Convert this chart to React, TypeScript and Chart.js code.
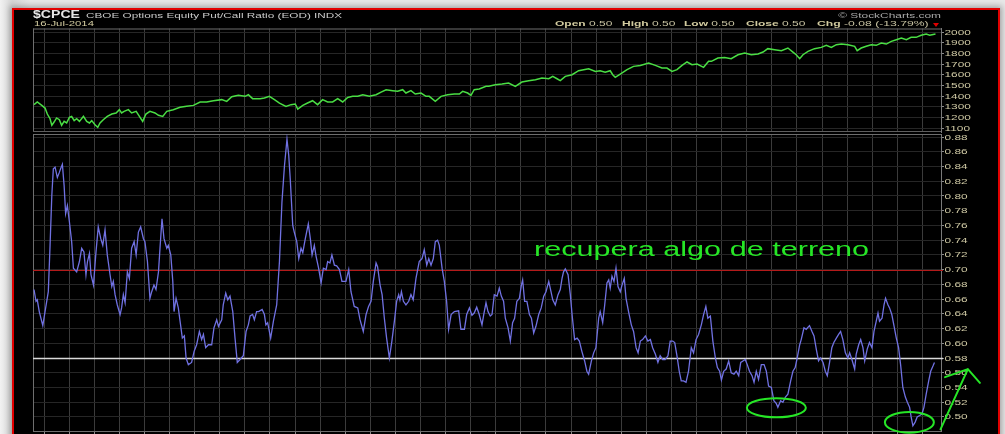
import React, { useEffect, useRef } from 'react';
import { Chart, registerables } from 'chart.js';

Chart.register(...registerables);

// Month grid (Aug 2011 .. Jul 2014), x unit = months since 1-Aug-2011
const monthLabels = [
  'Aug', 'Sep', 'Oct', 'Nov', 'Dec',
  '2012', 'Feb', 'Mar', 'Apr', 'May', 'Jun', 'Jul', 'Aug', 'Sep', 'Oct', 'Nov', 'Dec',
  '2013', 'Feb', 'Mar', 'Apr', 'May', 'Jun', 'Jul', 'Aug', 'Sep', 'Oct', 'Nov', 'Dec',
  '2014', 'Feb', 'Mar', 'Apr', 'May', 'Jun', 'Jul',
];

// S&P 500 (top panel)
const spxMonth = [
  -0.40, -0.27, -0.09, 0.04, 0.13, 0.24, 0.31, 0.40, 0.50, 0.61, 0.70, 0.80, 0.90, 1.01, 1.10, 1.20, 1.30, 1.41, 1.57, 1.70,
  1.81, 1.90, 2.03, 2.14, 2.23, 2.36, 2.52, 2.70, 2.87, 3.00, 3.09, 3.19, 3.36, 3.49, 3.67, 3.80, 3.93, 4.06, 4.22, 4.42,
  4.56, 4.73, 4.89, 5.15, 5.42, 5.68, 5.95, 6.22, 6.48, 6.75, 7.08, 7.28, 7.48, 7.74, 8.01, 8.14, 8.31, 8.47,
  8.61, 8.78, 8.98, 9.18, 9.38, 9.64, 9.84, 10.01, 10.11, 10.31, 10.50, 10.70, 10.90, 11.10, 11.30, 11.50, 11.70, 11.90,
  12.10, 12.30, 12.50, 12.70, 12.96, 13.23, 13.43, 13.63, 13.89, 14.09, 14.29, 14.42, 14.62, 14.79, 15.02, 15.22, 15.35,
  15.59, 15.82, 16.08, 16.35, 16.55, 16.68, 16.88, 17.01, 17.14, 17.34, 17.61,
  17.72, 17.98, 18.25, 18.51, 18.78, 19.04, 19.31, 19.58, 19.84, 20.11, 20.27, 20.44, 20.57, 20.77, 21.04, 21.30, 21.50,
  21.70, 21.97, 22.16, 22.36, 22.56, 22.66, 22.76, 22.96, 23.23, 23.49, 23.76, 24.09, 24.36, 24.62, 24.82, 25.02, 25.22,
  25.42, 25.62, 25.82, 26.02, 26.28, 26.48,
  26.59, 26.85, 27.12, 27.38, 27.65, 27.92, 28.18, 28.45, 28.65, 28.84, 29.11, 29.38, 29.64, 29.84, 29.97, 30.11, 30.24,
  30.44, 30.70, 30.97, 31.17, 31.37, 31.57, 31.77, 32.03, 32.30, 32.40, 32.56, 32.76, 32.96, 33.16, 33.36, 33.56, 33.76,
  33.96, 34.16, 34.36, 34.55, 34.75, 34.95, 35.15, 35.29, 35.52,
];
const spxClose = [
  1319, 1344, 1312, 1287, 1231, 1187, 1125, 1156, 1194, 1178, 1125, 1162, 1147, 1200, 1209, 1169, 1187, 1162, 1209, 1162,
  1147, 1169, 1131, 1106, 1147, 1178, 1209, 1231, 1241, 1272, 1241, 1256, 1272, 1241, 1256, 1209, 1162, 1231, 1256, 1241,
  1219, 1209, 1256, 1272, 1294, 1303, 1312, 1344, 1344, 1356, 1366, 1350, 1394, 1406, 1397, 1412, 1375, 1375,
  1375, 1381, 1397, 1366, 1334, 1303, 1319, 1325, 1278, 1312, 1334, 1356, 1319, 1366, 1344, 1344, 1375, 1344,
  1387, 1397, 1397, 1412, 1397, 1412, 1437, 1459, 1450, 1444, 1459, 1428, 1450, 1419, 1428, 1397, 1397,
  1350, 1397, 1412, 1419, 1419, 1444, 1428, 1406, 1459, 1466, 1491,
  1491, 1506, 1512, 1522, 1491, 1531, 1544, 1553, 1569, 1562, 1584, 1562, 1544, 1584, 1600, 1637, 1647,
  1656, 1631, 1637, 1622, 1637, 1600, 1575, 1606, 1647, 1678, 1687, 1709, 1687, 1662, 1662, 1631, 1647,
  1687, 1719, 1694, 1700, 1669, 1725,
  1725, 1756, 1762, 1750, 1787, 1803, 1787, 1794, 1812, 1844, 1834, 1825, 1850, 1812, 1787, 1750, 1787,
  1819, 1844, 1856, 1875, 1856, 1881, 1887, 1881, 1866, 1825, 1850, 1866, 1881, 1875, 1897, 1887, 1912,
  1928, 1944, 1928, 1950, 1950, 1969, 1981, 1969, 1981,
];

// $CPCE equity put/call ratio (bottom panel)
const cpceMonth = [
  -0.40, -0.32, -0.27, -0.19, -0.05, 0.04, 0.17, 0.24, 0.31, 0.37, 0.44, 0.53, 0.61, 0.66, 0.73, 0.80, 0.86, 0.93, 1.01, 1.10,
  1.17, 1.30, 1.41, 1.50, 1.59, 1.67, 1.73, 1.81, 1.87, 1.97, 2.06, 2.16, 2.26, 2.34, 2.43, 2.52, 2.63, 2.70, 2.76, 2.83,
  2.92, 3.03, 3.09, 3.16, 3.23, 3.32, 3.40, 3.49, 3.59, 3.67, 3.76, 3.85, 3.96, 4.02, 4.12, 4.22, 4.29, 4.38, 4.46, 4.56,
  4.62, 4.70, 4.78, 4.89, 4.95, 5.05, 5.13, 5.18, 5.26, 5.35, 5.42, 5.51, 5.59, 5.66, 5.75, 5.88, 5.98, 6.08, 6.19, 6.28,
  6.35, 6.44, 6.55, 6.68, 6.77, 6.88, 6.95, 7.08, 7.14, 7.24, 7.32, 7.41, 7.52, 7.61, 7.70, 7.81, 7.94, 8.05, 8.14, 8.21,
  8.31, 8.38, 8.47,
  8.55, 8.69, 8.78, 8.84, 8.91, 9.03, 9.14, 9.27, 9.38, 9.48, 9.58, 9.68, 9.75, 9.81, 9.91, 9.97, 10.07, 10.15, 10.24, 10.31,
  10.41, 10.53, 10.61, 10.68, 10.77, 10.84, 10.94, 11.04, 11.13, 11.24, 11.30, 11.39, 11.47, 11.57, 11.66, 11.77, 11.87,
  12.03, 12.14, 12.23, 12.36, 12.50, 12.59, 12.72, 12.83, 12.93, 13.03, 13.12, 13.23, 13.29, 13.39, 13.47, 13.56, 13.65,
  13.76, 13.86, 13.96, 14.05, 14.13, 14.18, 14.24, 14.32, 14.42, 14.53, 14.62, 14.71, 14.82, 14.95, 15.06, 15.15, 15.25,
  15.33, 15.42, 15.51, 15.59, 15.68, 15.75, 15.86, 15.95, 16.04, 16.12, 16.22, 16.35, 16.52, 16.61, 16.75, 16.84, 16.95,
  17.05, 17.14, 17.24, 17.34, 17.45,
  17.52, 17.61, 17.69, 17.78, 17.85, 17.94, 18.05, 18.14, 18.22, 18.31, 18.38, 18.49, 18.58, 18.67, 18.75, 18.84, 18.94,
  19.02, 19.07, 19.15, 19.24, 19.34, 19.42, 19.51, 19.60, 19.71, 19.81, 19.91, 20.00, 20.11, 20.20, 20.27, 20.37, 20.48,
  20.57, 20.64, 20.70, 20.77, 20.88, 20.97, 21.04, 21.14, 21.24, 21.33, 21.43, 21.54, 21.63, 21.70, 21.81, 21.90, 21.99,
  22.10, 22.16, 22.26, 22.34, 22.43, 22.50, 22.56, 22.63, 22.71, 22.79, 22.87, 22.96, 23.03, 23.12, 23.19, 23.29, 23.40,
  23.49, 23.59, 23.67, 23.76, 23.85, 23.96, 24.06, 24.16, 24.25, 24.36, 24.46, 24.55, 24.65, 24.75, 24.86, 24.95, 25.05,
  25.13, 25.22, 25.31, 25.39, 25.48, 25.58, 25.68, 25.79, 25.88, 25.98, 26.08, 26.19, 26.28, 26.37, 26.45, 26.55,
  26.65, 26.75, 26.83, 26.92, 26.99, 27.08, 27.18, 27.28, 27.38, 27.49, 27.58, 27.68, 27.76, 27.85, 27.94, 28.02, 28.11,
  28.21, 28.29, 28.38, 28.47, 28.58, 28.69, 28.78, 28.87, 28.98, 29.08, 29.18, 29.24, 29.35, 29.44, 29.54, 29.64, 29.75,
  29.84, 29.93, 30.01, 30.11, 30.17, 30.28, 30.37, 30.50, 30.60, 30.68, 30.77, 30.86, 30.94, 31.04, 31.13, 31.21, 31.30,
  31.39, 31.47, 31.57, 31.66, 31.74, 31.83, 31.93, 32.03, 32.10, 32.19, 32.30, 32.36, 32.46, 32.54, 32.63, 32.70, 32.80,
  32.89, 32.99, 33.07, 33.16, 33.23, 33.29, 33.39, 33.47, 33.53, 33.63, 33.69, 33.78, 33.86, 33.96, 34.05, 34.13, 34.22,
  34.32, 34.40, 34.49, 34.55, 34.62, 34.71, 34.79, 34.89, 34.98, 35.06, 35.15, 35.25, 35.33, 35.42, 35.48,
];
const cpceRatio = [
  0.673, 0.657, 0.659, 0.643, 0.624, 0.643, 0.670, 0.733, 0.801, 0.837, 0.839, 0.825, 0.832, 0.837, 0.843, 0.814, 0.776, 0.787, 0.765, 0.738,
  0.702, 0.697, 0.711, 0.729, 0.724, 0.693, 0.711, 0.722, 0.693, 0.679, 0.720, 0.758, 0.742, 0.733, 0.754, 0.720, 0.693, 0.677, 0.684, 0.666,
  0.652, 0.639, 0.648, 0.666, 0.655, 0.697, 0.688, 0.729, 0.738, 0.720, 0.751, 0.758, 0.742, 0.738, 0.711, 0.661, 0.670, 0.679, 0.673, 0.697,
  0.729, 0.769, 0.742, 0.729, 0.733, 0.720, 0.684, 0.643, 0.661, 0.648, 0.630, 0.607, 0.610, 0.580, 0.571, 0.574, 0.589, 0.598, 0.616, 0.605,
  0.612, 0.594, 0.598, 0.598, 0.621, 0.632, 0.623, 0.632, 0.652, 0.668, 0.659, 0.664, 0.643, 0.607, 0.574, 0.578, 0.583, 0.616, 0.625, 0.637,
  0.639, 0.632, 0.643,
  0.643, 0.646, 0.639, 0.625, 0.628, 0.607, 0.630, 0.652, 0.711, 0.792, 0.841, 0.877, 0.855, 0.823, 0.760, 0.751, 0.738, 0.715, 0.729, 0.723,
  0.742, 0.762, 0.742, 0.720, 0.733, 0.718, 0.702, 0.682, 0.702, 0.700, 0.711, 0.709, 0.720, 0.706, 0.705, 0.700, 0.684,
  0.684, 0.700, 0.670, 0.650, 0.648, 0.632, 0.616, 0.639, 0.650, 0.657, 0.684, 0.709, 0.704, 0.679, 0.666, 0.634, 0.607,
  0.580, 0.603, 0.630, 0.657, 0.666, 0.659, 0.670, 0.657, 0.652, 0.657, 0.666, 0.659, 0.688, 0.711, 0.715, 0.727, 0.706,
  0.715, 0.706, 0.715, 0.738, 0.740, 0.733, 0.702, 0.684, 0.657, 0.619, 0.639, 0.643, 0.644, 0.619, 0.619, 0.639, 0.648,
  0.638, 0.641, 0.649, 0.639, 0.625,
  0.639, 0.655, 0.643, 0.637, 0.639, 0.666, 0.664, 0.675, 0.664, 0.657, 0.634, 0.621, 0.603, 0.628, 0.634, 0.657, 0.661,
  0.679, 0.686, 0.657, 0.657, 0.639, 0.634, 0.614, 0.623, 0.639, 0.648, 0.664, 0.670, 0.684, 0.670, 0.659, 0.652, 0.666,
  0.673, 0.688, 0.697, 0.701, 0.693, 0.666, 0.639, 0.605, 0.607, 0.603, 0.589, 0.576, 0.562, 0.558, 0.576, 0.587, 0.594,
  0.634, 0.643, 0.628, 0.652, 0.682, 0.686, 0.675, 0.691, 0.684, 0.702, 0.677, 0.670, 0.679, 0.688, 0.661, 0.643, 0.625,
  0.616, 0.594, 0.587, 0.603, 0.605, 0.610, 0.603, 0.605, 0.594, 0.585, 0.574, 0.583, 0.578, 0.578, 0.583, 0.603, 0.603,
  0.601, 0.583, 0.562, 0.549, 0.549, 0.547, 0.562, 0.594, 0.587, 0.605, 0.612, 0.625, 0.639, 0.650, 0.634, 0.637,
  0.603, 0.580, 0.567, 0.562, 0.550, 0.562, 0.565, 0.576, 0.560, 0.558, 0.562, 0.556, 0.574, 0.576, 0.578, 0.571, 0.562,
  0.556, 0.547, 0.562, 0.551, 0.571, 0.571, 0.562, 0.542, 0.540, 0.522, 0.518, 0.513, 0.522, 0.520, 0.527, 0.531, 0.549,
  0.562, 0.567, 0.580, 0.598, 0.605, 0.621, 0.619, 0.624, 0.616, 0.610, 0.592, 0.576, 0.580, 0.574, 0.562, 0.556, 0.574,
  0.594, 0.601, 0.607, 0.612, 0.616, 0.605, 0.587, 0.580, 0.587, 0.578, 0.565, 0.585, 0.598, 0.605, 0.594, 0.576, 0.592,
  0.601, 0.594, 0.616, 0.630, 0.641, 0.630, 0.634, 0.652, 0.661, 0.652, 0.648, 0.639, 0.625, 0.607, 0.594, 0.571, 0.540,
  0.527, 0.520, 0.513, 0.500, 0.488, 0.493, 0.500, 0.502, 0.504, 0.513, 0.531, 0.549, 0.562, 0.569, 0.574,
];

const spxTicks = [1100, 1200, 1300, 1400, 1500, 1600, 1700, 1800, 1900, 2000];
const ratioTicks = [0.50, 0.52, 0.54, 0.56, 0.58, 0.60, 0.62, 0.64, 0.66, 0.68, 0.70, 0.72, 0.74, 0.76, 0.78, 0.80, 0.82, 0.84, 0.86, 0.88];
const refLevels = [0.70, 0.58];

// Hand-drawn annotation, in data coordinates (months, ratio)
const lowEllipses = [
  { x: 29.18, y: 0.5124, rx: 1.175, ry: 0.0130 },
  { x: 34.48, y: 0.4927, rx: 0.976, ry: 0.0141 },
];
const arrowPath = { tail: [35.72, 0.4831], tip: [36.81, 0.565], wingA: [35.90, 0.554], wingB: [37.29, 0.5463] };

const X_MIN = -0.44;
const X_MAX = 35.74;
const VGRID = '#3b3b3b';
const HGRID = '#262626';
const LABEL_COLOR = '#cfc9a4';
const ANNOT_GREEN = '#26e626';
const FONT = '"Liberation Sans", Arial, sans-serif';

const framePlugin = (drawTop: boolean, drawBottom: boolean, bottomColor: string) => ({
  id: 'frame',
  beforeDatasetsDraw(chart: any) {
    const { ctx, chartArea: a } = chart;
    ctx.save();
    ctx.lineWidth = 1;
    ctx.strokeStyle = '#6e6e6e';
    ctx.beginPath();
    ctx.moveTo(a.left + 0.5, a.top);
    ctx.lineTo(a.left + 0.5, a.bottom);
    ctx.stroke();
    if (drawTop) {
      ctx.beginPath();
      ctx.moveTo(a.left, a.top + 0.5);
      ctx.lineTo(a.right, a.top + 0.5);
      ctx.stroke();
    }
    if (drawBottom) {
      ctx.strokeStyle = bottomColor;
      ctx.beginPath();
      ctx.moveTo(a.left, a.bottom - 0.5);
      ctx.lineTo(a.right, a.bottom - 0.5);
      ctx.stroke();
    }
    ctx.restore();
  },
});

const labelPlugin = (fmt: (v: number) => string) => ({
  id: 'stretchedLabels',
  afterDraw(chart: any) {
    const s = chart.scales.y;
    const ctx = chart.ctx;
    ctx.save();
    ctx.font = `7.5px ${FONT}`;
    ctx.fillStyle = LABEL_COLOR;
    ctx.textBaseline = 'middle';
    ctx.textAlign = 'left';
    s.ticks.forEach((t: any) => {
      const y = s.getPixelForValue(t.value);
      ctx.save();
      ctx.translate(s.left + 3.5, y + 0.5);
      ctx.scale(1.58, 1);
      ctx.fillText(fmt(t.value), 0, 0);
      ctx.restore();
    });
    ctx.restore();
  },
});

const refLinePlugin = {
  id: 'refLines',
  beforeDatasetsDraw(chart: any) {
    const { ctx, chartArea: a, scales } = chart;
    const colors = ['#b31a1a', '#dadada'];
    ctx.save();
    refLevels.forEach((v, i) => {
      const y = Math.round(scales.y.getPixelForValue(v)) + 0.5;
      ctx.strokeStyle = colors[i];
      ctx.lineWidth = i === 0 ? 1.2 : 1.3;
      ctx.beginPath();
      ctx.moveTo(a.left, y);
      ctx.lineTo(a.right + 2, y);
      ctx.stroke();
    });
    ctx.restore();
  },
};

const annotationPlugin = {
  id: 'handAnnotations',
  afterDraw(chart: any) {
    const { ctx, scales } = chart;
    const px = (x: number) => scales.x.getPixelForValue(x);
    const py = (y: number) => scales.y.getPixelForValue(y);
    ctx.save();
    ctx.strokeStyle = ANNOT_GREEN;
    ctx.lineWidth = 2;
    lowEllipses.forEach((e) => {
      const cx = px(e.x);
      const cy = py(e.y);
      const rx = Math.abs(px(e.x + e.rx) - cx);
      const ry = Math.abs(py(e.y + e.ry) - cy);
      ctx.beginPath();
      ctx.ellipse(cx, cy, rx, ry, 0, 0, Math.PI * 2);
      ctx.stroke();
    });
    const p = (pt: number[]) => [px(pt[0]), py(pt[1])];
    const [tx, ty] = p(arrowPath.tail);
    const [hx, hy] = p(arrowPath.tip);
    const [ax, ay] = p(arrowPath.wingA);
    const [bx, by] = p(arrowPath.wingB);
    ctx.lineCap = 'round';
    ctx.beginPath();
    ctx.moveTo(tx, ty);
    ctx.lineTo(hx, hy);
    ctx.moveTo(ax, ay);
    ctx.lineTo(hx, hy);
    ctx.lineTo(bx, by);
    ctx.stroke();
    ctx.restore();
  },
};

const xScale = (tickLen: number) => ({
  type: 'linear',
  min: X_MIN,
  max: X_MAX,
  afterBuildTicks: (s: any) => {
    s.ticks = monthLabels.map((_, i) => ({ value: i }));
  },
  ticks: { display: false },
  grid: { color: VGRID, drawTicks: tickLen > 0, tickLength: tickLen, tickColor: '#8a8a8a', lineWidth: 1 },
  border: { display: tickLen > 0, color: '#6e6e6e' },
  afterFit: (s: any) => {
    s.height = tickLen;
  },
});

const yScale = (min: number, max: number, ticks: number[]) => ({
  type: 'linear',
  position: 'right',
  min,
  max,
  afterBuildTicks: (s: any) => {
    s.ticks = ticks.filter((v) => v >= min && v <= max).map((v) => ({ value: v }));
  },
  ticks: { display: false },
  grid: { color: HGRID, drawTicks: true, tickLength: 3, tickColor: '#8a8a8a', lineWidth: 1 },
  border: { display: true, color: '#7a7a7a' },
  afterFit: (s: any) => {
    s.width = 57;
    s.paddingTop = 0;
    s.paddingBottom = 0;
  },
});

function PanelCanvas({ config, top, height }: { config: any; top: number; height: number }) {
  const ref = useRef<HTMLCanvasElement | null>(null);
  useEffect(() => {
    if (!ref.current) return;
    const chart = new Chart(ref.current, config);
    return () => chart.destroy();
  }, [config]);
  return (
    <canvas
      ref={ref}
      width={984}
      height={height}
      style={{ position: 'absolute', left: 14, top, width: 984, height }}
    />
  );
}

const topConfig = {
  type: 'line',
  data: {
    datasets: [
      {
        data: spxMonth.map((x, i) => ({ x, y: spxClose[i] })),
        borderColor: '#4ade44',
        borderWidth: 1.5,
        pointRadius: 0,
        tension: 0,
      },
    ],
  },
  options: {
    animation: false,
    responsive: false,
    events: [],
    layout: { padding: { left: 19, right: 0, top: 18.5, bottom: 2 } },
    plugins: { legend: { display: false }, tooltip: { enabled: false } },
    scales: { x: xScale(0), y: yScale(1062.5, 2033, spxTicks) },
  },
  plugins: [framePlugin(true, true, '#5e5e5e'), labelPlugin((v) => String(v))],
};

const bottomConfig = {
  type: 'line',
  data: {
    datasets: [
      {
        data: cpceMonth.map((x, i) => ({ x, y: cpceRatio[i] })),
        borderColor: '#7071e2',
        borderWidth: 1.3,
        pointRadius: 0,
        tension: 0,
      },
    ],
  },
  options: {
    animation: false,
    responsive: false,
    events: [],
    layout: { padding: { left: 19, right: 0, top: 4, bottom: 15 } },
    plugins: { legend: { display: false }, tooltip: { enabled: false } },
    scales: { x: xScale(4), y: yScale(0.4809, 0.8841, ratioTicks) },
  },
  plugins: [framePlugin(true, false, '#5e5e5e'), refLinePlugin, labelPlugin((v) => v.toFixed(2)), annotationPlugin],
};

function Txt({ left, right, top, size, bold, color, sx, children }: any) {
  const style: any = {
    position: 'absolute',
    top,
    fontSize: size,
    lineHeight: `${size}px`,
    fontWeight: bold ? 'bold' : 'normal',
    color,
    whiteSpace: 'nowrap',
    transform: `scaleX(${sx})`,
    transformOrigin: right !== undefined ? 'right top' : 'left top',
  };
  if (right !== undefined) style.right = right;
  else style.left = left;
  return <div style={style}>{children}</div>;
}

const KHAKI = '#d3cca0';
const KHAKI_VAL = '#c8c3a2';

export default function App() {
  return (
    <div
      style={{
        position: 'fixed',
        left: 0,
        top: 0,
        width: 1005,
        height: 434,
        overflow: 'hidden',
        background: 'linear-gradient(90deg, #f2f2f2 0%, #d6d6d6 1.2%, #e8e8e8 3%)',
        fontFamily: FONT,
      }}
    >
      <div
        style={{
          position: 'absolute',
          left: 12,
          top: 8,
          width: 988,
          height: 460,
          boxSizing: 'border-box',
          border: '2px solid #e20000',
          background: '#000',
          boxShadow: '0 0 6px 2px rgba(0,0,0,0.3)',
        }}
      />
      <PanelCanvas config={topConfig} top={10} height={124} />
      <PanelCanvas config={bottomConfig} top={130} height={320} />

      <Txt left={33} top={9.8} size={10} bold color="#e6e6e6" sx={1.41}>$CPCE</Txt>
      <Txt left={86} top={11.5} size={8} color="#c9c9c9" sx={1.47}>CBOE Options Equity Put/Call Ratio (EOD) INDX</Txt>
      <Txt left={34} top={19.9} size={8} color={KHAKI} sx={1.42}>16-Jul-2014</Txt>
      <Txt right={64} top={11.5} size={8} color="#a8a8a8" sx={1.49}>© StockCharts.com</Txt>

      <Txt left={555} top={19.9} size={8} color={KHAKI_VAL} sx={1.5}><b style={{ color: KHAKI }}>Open</b> 0.50</Txt>
      <Txt left={621.7} top={19.9} size={8} color={KHAKI_VAL} sx={1.5}><b style={{ color: KHAKI }}>High</b> 0.50</Txt>
      <Txt left={684} top={19.9} size={8} color={KHAKI_VAL} sx={1.5}><b style={{ color: KHAKI }}>Low</b> 0.50</Txt>
      <Txt left={746} top={19.9} size={8} color={KHAKI_VAL} sx={1.5}><b style={{ color: KHAKI }}>Close</b> 0.50</Txt>
      <Txt left={817.3} top={19.9} size={8} color={KHAKI_VAL} sx={1.52}><b style={{ color: KHAKI }}>Chg</b> -0.08 (-13.79%)</Txt>
      <div
        style={{
          position: 'absolute',
          left: 933,
          top: 23,
          width: 0,
          height: 0,
          borderLeft: '3px solid transparent',
          borderRight: '3px solid transparent',
          borderTop: '4px solid #e00000',
        }}
      />

      <Txt left={534} top={238.8} size={20} color={ANNOT_GREEN} sx={1.53}>recupera algo de terreno</Txt>
    </div>
  );
}
